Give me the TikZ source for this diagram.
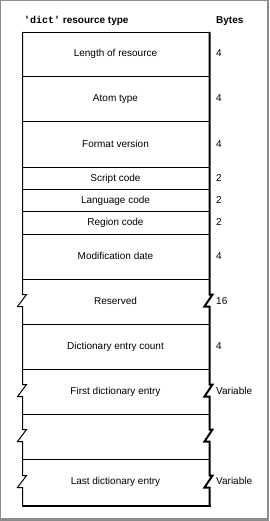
\documentclass[tikz,border=0pt]{standalone}
\usepackage{fontspec}
\setmainfont{Liberation Sans}
\setmonofont{Liberation Mono}
\usetikzlibrary{positioning}

\definecolor{framegray}{HTML}{8C8C8C}

\begin{document}
\begin{tikzpicture}[
  x=1pt, y=-1pt,
  font=\fontsize{10}{12}\selectfont,
  field/.style = {inner sep=0pt, anchor=center, text height=7.5pt, text depth=2pt},
  bytes/.style = {inner sep=0pt, anchor=west, text height=7.5pt, text depth=2pt},
  hdr/.style   = {inner sep=0pt, anchor=west, text height=7.5pt, text depth=2pt,
                  font=\fontsize{10}{12}\selectfont\bfseries},
  sep/.style   = {line width=1pt},
  edge/.style  = {line width=1pt, line join=miter},
  heavy/.style = {line width=2pt, line join=miter},
]

%% Frame
\useasboundingbox (0,0) rectangle (269,521);
\fill[framegray] (0,0) rectangle (269,521);
\fill[white] (1,1) rectangle (267,518);

%% Header
\node[hdr] (title) at (24,21) {\texttt{'dict'} resource type};
\node[hdr] (bhdr)  at (216,21) {Bytes};

%% Separators
\draw[sep] (22,32.5) -- (209,32.5)
           (22,76.5) -- (209,76.5)
           (22,121.5) -- (209,121.5)
           (22,167.5) -- (209,167.5)
           (22,189.5) -- (209,189.5)
           (22,211.5) -- (209,211.5)
           (22,234.5) -- (209,234.5)
           (22,279.5) -- (209,279.5)
           (22,324.5) -- (209,324.5)
           (22,369.5) -- (209,369.5)
           (22,414.5) -- (209,414.5)
           (22,459.5) -- (209,459.5);

%% Left side with breaks
\draw[edge] (22.5,32) -- (22.5,294.5) -- ++(4,0) -- ++(-9,12) -- ++(5,0)
  -- (22.5,384.5) -- ++(4,0) -- ++(-9,12) -- ++(5,0)
  -- (22.5,429.5) -- ++(4,0) -- ++(-9,12) -- ++(5,0)
  -- (22.5,475.5) -- ++(4,0) -- ++(-9,12) -- ++(5,0)
  -- (22.5,505);

%% Right side with breaks
\draw[heavy] (209.5,32) -- (209.5,294.5) -- ++(3,0) -- ++(-8,12) -- ++(5,0)
  -- (209.5,384.5) -- ++(3,0) -- ++(-8,12) -- ++(5,0)
  -- (209.5,429.5) -- ++(3,0) -- ++(-8,12) -- ++(5,0)
  -- (209.5,475.5) -- ++(3,0) -- ++(-8,12) -- ++(5,0)
  -- (209.5,506);
\draw[heavy] (22,505.5) -- (210.5,505.5);

%% Fields
\node[field] (len)   at (115.5,54)    {Length of resource};
\node[field] (atom)  at (115.5,99)    {Atom type};
\node[field] (fmt)   at (115.5,144.5) {Format version};
\node[field] (scr)   at (115.5,178.5) {Script code};
\node[field] (lang)  at (115.5,200.5) {Language code};
\node[field] (reg)   at (115.5,223)   {Region code};
\node[field] (mod)   at (115.5,257)   {Modification date};
\node[field] (rsv)   at (115.5,302)   {Reserved};
\node[field] (cnt)   at (115.5,347)   {Dictionary entry count};
\node[field] (first) at (115.5,392)   {First dictionary entry};
\node[field] (last)  at (115.5,482)   {Last dictionary entry};

%% Sizes
\node[bytes] (blen)   at (216,54)    {4};
\node[bytes] (batom)  at (216,99)    {4};
\node[bytes] (bfmt)   at (216,144.5) {4};
\node[bytes] (bscr)   at (216,178.5) {2};
\node[bytes] (blang)  at (216,200.5) {2};
\node[bytes] (breg)   at (216,223)   {2};
\node[bytes] (bmod)   at (216,257)   {4};
\node[bytes] (brsv)   at (216,302)   {16};
\node[bytes] (bcnt)   at (216,347)   {4};
\node[bytes] (bfirst) at (216,392)   {Variable};
\node[bytes] (blast)  at (216,482)   {Variable};

\end{tikzpicture}
\end{document}
